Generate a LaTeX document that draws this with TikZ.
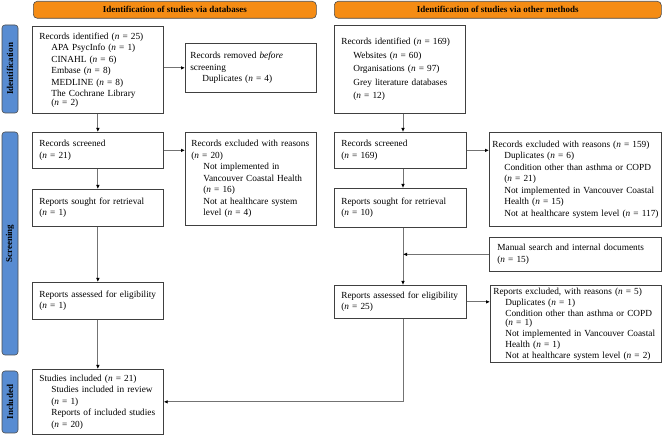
\documentclass[tikz,border=0pt]{standalone}
\usepackage{fontspec}
\setmainfont{Liberation Serif}
\usetikzlibrary{arrows.meta,calc}
\definecolor{hdrorange}{RGB}{245,140,20}
\definecolor{barblue}{RGB}{88,140,210}
\newcommand{\nval}[1]{(\textit{n} = #1)}
\newcommand{\ind}{\hspace*{12pt}}
\begin{document}
\begin{tikzpicture}[x=1pt,y=-1pt,
  box/.style={draw=black!75, line width=0.7pt, anchor=north west, align=left,
    inner ysep=0pt, font=\fontsize{9.3}{11.5}\selectfont},
  hdr/.style={draw=black!70, fill=hdrorange, rounded corners=4pt, line width=0.6pt,
    anchor=north west, inner sep=0pt, font=\fontsize{9}{10}\selectfont\bfseries},
  sidebar/.style={draw=black!70, fill=barblue, rounded corners=3pt, line width=0.6pt,
    rotate=90, inner sep=0pt, minimum height=16pt, font=\fontsize{9}{10}\selectfont\bfseries},
  conn/.style={draw=black!55, line width=0.8pt, -{Latex[length=4pt,width=3.6pt,color=black]}}
]
\useasboundingbox (0,0) rectangle (662,435);

% headers
\node[hdr, minimum width=283pt, minimum height=17pt] (hdrL) at (33,1) {Identification of studies via databases};
\node[hdr, minimum width=327pt, minimum height=17pt] (hdrR) at (334,1) {Identification of studies via other methods};

% side bars
\node[sidebar, minimum width=88pt] (barI) at (10,69) {Identification};
\node[sidebar, minimum width=223pt] (barS) at (10,243.5) {Screening};
\node[sidebar, minimum width=62pt] (barN) at (10,402) {Included};

% left column
\node[box, text width=117pt, inner xsep=7pt, minimum height=87pt] (idL) at (32,26) {Records identified \nval{25}\\
\ind APA PsycInfo \nval{1}\\
\ind CINAHL \nval{6}\\
\ind Embase \nval{8}\\
\ind MEDLINE \nval{8}\\
\ind The Cochrane Library\\[-3pt]
\ind \nval{2}};

\node[box, text width=121pt, inner xsep=5pt, minimum height=49pt] (remL) at (185,43) {Records removed \textit{before}\\
screening\\
\ind Duplicates \nval{4}};

\node[box, text width=117pt, inner xsep=7pt, minimum height=36pt] (scrL) at (32,132) {Records screened\\
\nval{21}};

\node[box, text width=119pt, inner xsep=6pt, minimum height=93pt] (excL) at (185,132) {Records excluded with reasons\\
\nval{20}\\
\ind Not implemented in\\
\ind Vancouver Coastal Health\\
\ind \nval{16}\\
\ind Not at healthcare system\\
\ind level \nval{4}};

\node[box, text width=117pt, inner xsep=7pt, minimum height=37pt] (sghL) at (32,189) {Reports sought for retrieval\\
\nval{1}};

\node[box, text width=117pt, inner xsep=7pt, minimum height=37pt] (aseL) at (32,282) {Reports assessed for eligibility\\
\nval{1}};

\node[box, text width=117pt, inner xsep=7pt, minimum height=65pt] (incL) at (32,369) {Studies included \nval{21}\\
\ind Studies included in review\\
\ind \nval{1}\\
\ind Reports of included studies\\
\ind \nval{20}};

% right column
\node[box, text width=117pt, inner xsep=7pt, minimum height=88pt] (idR) at (334,25) {Records identified \nval{169}\\[2pt]
\ind Websites \nval{60}\\[2pt]
\ind Organisations \nval{97}\\[2pt]
\ind Grey literature databases\\[2pt]
\ind \nval{12}};

\node[box, text width=118pt, inner xsep=7pt, minimum height=36pt] (scrR) at (334,132) {Records screened\\
\nval{169}};

\node[box, text width=166pt, inner xsep=3pt, minimum height=94pt] (excR) at (489,132) {Records excluded with reasons \nval{159}\\
\ind Duplicates \nval{6}\\
\ind Condition other than asthma or COPD\\
\ind \nval{21}\\
\ind \mbox{Not implemented in Vancouver Coastal}\\
\ind Health \nval{15}\\
\ind \mbox{Not at healthcare system level \nval{117}}};

\node[box, text width=118pt, inner xsep=7pt, minimum height=39pt] (sghR) at (334,188) {Reports sought for retrieval\\
\nval{10}};

\node[box, text width=156pt, inner xsep=8pt, minimum height=34pt] (manR) at (489,237) {Manual search and internal documents\\
\nval{15}};

\node[box, text width=165pt, inner xsep=3pt, minimum height=77pt, font=\fontsize{9.3}{11}\selectfont] (exc2R) at (490,285) {Reports excluded, with reasons \nval{5}\\
\ind Duplicates \nval{1}\\
\ind \mbox{Condition other than asthma or COPD}\\[-2pt]
\ind \nval{1}\\
\ind \mbox{Not implemented in Vancouver Coastal}\\
\ind Health \nval{1}\\
\ind \mbox{Not at healthcare system level \nval{2}}};

\node[box, text width=118pt, inner xsep=7pt, minimum height=33pt] (aseR) at (334,285) {Reports assessed for eligibility\\
\nval{25}};

\coordinate (colR) at (403,0);

% connectors left
\draw[conn] (idL.south) -- (scrL.north);
\draw[conn] (remL.west -| idL.east) -- (remL.west);
\draw[conn] (scrL.east) -- (scrL.east -| excL.west);
\draw[conn] (scrL.south) -- (sghL.north);
\draw[conn] (sghL.south) -- (aseL.north);
\draw[conn] (aseL.south) -- (incL.north);

% connectors right
\draw[conn] (idR.south -| colR) -- (scrR.north -| colR);
\draw[conn] (scrR.east) -- (scrR.east -| excR.west);
\draw[conn] (scrR.south -| colR) -- (sghR.north -| colR);
\draw[conn] (sghR.south -| colR) -- (aseR.north -| colR);
\draw[conn] (manR.west) -- (manR.west -| colR);
\draw[conn] (aseR.east) -- (aseR.east -| exc2R.west);
\draw[conn] (aseR.south -| colR) |- (incL.east);
\end{tikzpicture}
\end{document}
